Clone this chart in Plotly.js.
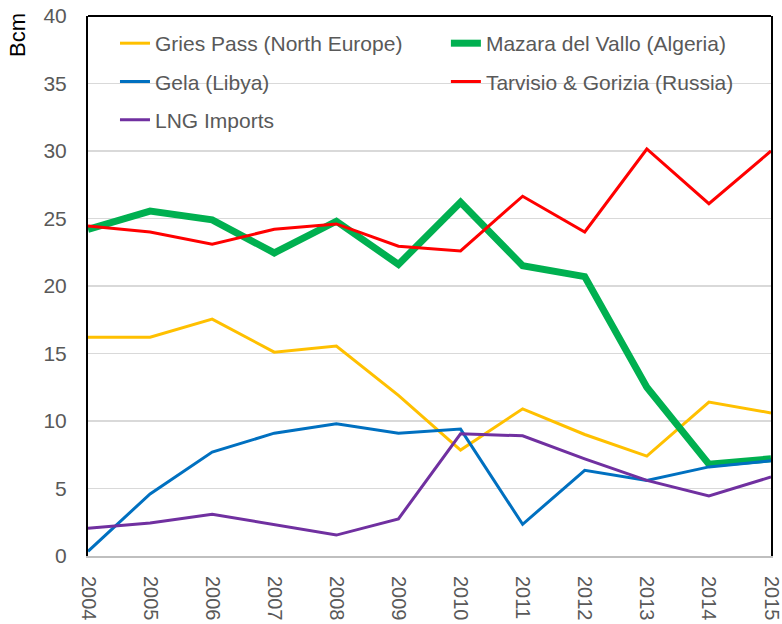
<!DOCTYPE html>
<html>
<head>
<meta charset="utf-8">
<script src="https://cdn.plot.ly/plotly-3.0.1.min.js"></script>
<style>html,body{margin:0;padding:0;background:#fff;}#chart{width:782px;height:624px;}</style>
</head>
<body>
<div id="chart"></div>
<script>
const years = [2004, 2005, 2006, 2007, 2008, 2009, 2010, 2011, 2012, 2013, 2014, 2015];
const griesPass = [16.2, 16.2, 17.55, 15.1, 15.55, 11.9, 7.85, 10.9, 9.0, 7.4, 11.4, 10.6];
const mazara = [24.2, 25.55, 24.9, 22.45, 24.8, 21.6, 26.2, 21.5, 20.7, 12.5, 6.8, 7.2];
const gela = [0.35, 4.6, 7.7, 9.1, 9.8, 9.1, 9.4, 2.35, 6.35, 5.6, 6.6, 7.05];
const tarvisio = [24.45, 24.0, 23.1, 24.2, 24.6, 22.95, 22.6, 26.65, 24.0, 30.15, 26.1, 30.0];
const lng = [2.05, 2.45, 3.1, 2.3, 1.55, 2.75, 9.05, 8.9, 7.2, 5.6, 4.45, 5.85];
const seriesNames = ["Gries Pass (North Europe)", "Mazara del Vallo (Algeria)", "Gela (Libya)", "Tarvisio & Gorizia (Russia)", "LNG Imports"];
const yTickVals = [0, 5, 10, 15, 20, 25, 30, 35, 40];

const FONT = "Liberation Sans, Arial, sans-serif";

const traces = [
  {x: years, y: griesPass, name: seriesNames[0], mode: "lines", line: {color: "#FFC000", width: 3}, legend: "legend"},
  {x: years, y: mazara, name: seriesNames[1], mode: "lines", line: {color: "#00B050", width: 7}, legend: "legend2"},
  {x: years, y: gela, name: seriesNames[2], mode: "lines", line: {color: "#0070C0", width: 3}, legend: "legend3"},
  {x: years, y: tarvisio, name: seriesNames[3], mode: "lines", line: {color: "#FF0000", width: 3}, legend: "legend4"},
  {x: years, y: lng, name: seriesNames[4], mode: "lines", line: {color: "#7030A0", width: 3}, legend: "legend5"}
];

function leg(x, y) {
  return {
    orientation: "v",
    x: x, xanchor: "left",
    y: y, yanchor: "middle",
    bgcolor: "rgba(0,0,0,0)",
    borderwidth: 0,
    itemwidth: 30,
    font: {family: FONT, size: 21, color: "#595959"}
  };
}

const layout = {
  width: 782, height: 624,
  margin: {l: 88, r: 11, t: 16, b: 68, pad: 0},
  paper_bgcolor: "#ffffff",
  plot_bgcolor: "#ffffff",
  font: {family: FONT, color: "#595959"},
  showlegend: true,
  legend: leg(0.0395, 0.949),
  legend2: leg(0.524, 0.949),
  legend3: leg(0.0395, 0.878),
  legend4: leg(0.524, 0.878),
  legend5: leg(0.0395, 0.807),
  xaxis: {
    type: "linear",
    range: [2004, 2015],
    tickvals: years,
    ticktext: years.map(String),
    tickangle: 90,
    showgrid: false,
    zeroline: false,
    showline: true,
    linecolor: "#BFBFBF",
    linewidth: 2,
    ticks: "",
    ticklabelstandoff: 14,
    ticklabeloverflow: "allow",
    tickfont: {family: FONT, size: 20, color: "#595959"}
  },
  yaxis: {
    range: [0, 40],
    tickvals: yTickVals,
    showgrid: true,
    gridcolor: "#D9D9D9",
    gridwidth: 1.5,
    zeroline: false,
    showline: true,
    mirror: true,
    linecolor: "#000000",
    linewidth: 2,
    ticks: "",
    ticklabelstandoff: 15,
    tickfont: {family: FONT, size: 21, color: "#595959"}
  },
  shapes: [
    {type: "rect", xref: "paper", yref: "paper", x0: 0.022, x1: 0.99, y0: 0.78, y1: 0.978,
     fillcolor: "#ffffff", line: {width: 0}, layer: "between"},
    {type: "line", xref: "paper", yref: "paper", x0: 0, x1: 1, y0: 1, y1: 1, line: {color: "#000000", width: 2}}
  ],
  annotations: [
    {text: "Bcm", xref: "paper", yref: "paper", x: 0, y: 0.965, xanchor: "center", yanchor: "middle",
     xshift: -70, textangle: -90, showarrow: false, font: {family: FONT, size: 22, color: "#000000"}}
  ]
};

Plotly.newPlot("chart", traces, layout, {displayModeBar: false, staticPlot: true});
</script>
</body>
</html>
